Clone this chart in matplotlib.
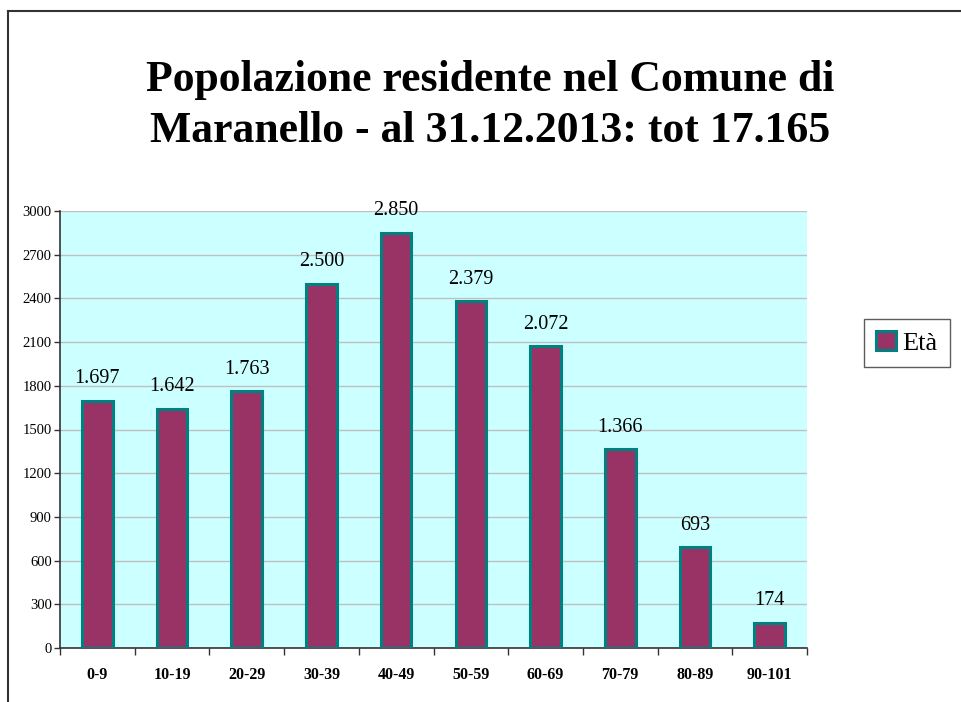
import numpy as np
import matplotlib.pyplot as plt
from matplotlib.lines import Line2D

fasce = ["0-9", "10-19", "20-29", "30-39", "40-49", "50-59", "60-69", "70-79", "80-89", "90-101"]
residenti = [1697, 1642, 1763, 2500, 2850, 2379, 2072, 1366, 693, 174]
etichette = ["1.697", "1.642", "1.763", "2.500", "2.850", "2.379", "2.072", "1.366", "693", "174"]
yticks = list(range(0, 3001, 300))

plt.rcParams['font.family'] = ['Liberation Serif', 'DejaVu Serif']

fig = plt.figure(figsize=(9.61, 7.02), dpi=100)
ax = fig.add_axes([60/961, 54/702, 747/961, 437/702])
ax.set_facecolor('#CCFFFF')

x = np.arange(len(fasce))
bars = ax.bar(x, residenti, width=0.41, color='#993366', edgecolor='#008080', linewidth=2.2,
              label='Età', zorder=3)
for xi, v, t in zip(x, residenti, etichette):
    ax.annotate(t, (xi, v), xytext=(0, 9), textcoords='offset points',
                ha='center', va='bottom', fontsize=14.5)

ax.set_xlim(-0.5, len(fasce) - 0.5)
ax.set_ylim(0, 3000)
ax.set_yticks(yticks)
ax.tick_params(axis='y', labelsize=10.5, length=4, width=1, color='#333333', pad=2)
ax.yaxis.grid(True, color='#C0C0C0', linewidth=1, zorder=0)
ax.set_axisbelow(True)

ax.set_xticks(x)
ax.set_xticklabels(fasce, fontweight='bold', fontsize=11.5)
ax.tick_params(axis='x', which='major', length=0, pad=14)
ax.set_xticks(np.arange(-0.5, len(fasce)), minor=True)
ax.tick_params(axis='x', which='minor', length=5, width=1, color='#333333')

for s in ['top', 'right']:
    ax.spines[s].set_visible(False)
for s in ['left', 'bottom']:
    ax.spines[s].set_color('#333333')
    ax.spines[s].set_linewidth(1.2)

fig.text(490/961, 0.915, "Popolazione residente nel Comune di\nMaranello - al 31.12.2013: tot 17.165",
         ha='center', va='top', fontsize=31.5, fontweight='bold', linespacing=1.38)

leg = fig.legend(handles=[bars], labels=['Età'], loc='center', bbox_to_anchor=(907/961, 1 - 343/702),
                 fontsize=19, frameon=True, fancybox=False, edgecolor='#333333',
                 handlelength=0.75, handleheight=0.75, handletextpad=0.25, borderpad=0.45)
leg.get_frame().set_linewidth(1)

fig.add_artist(Line2D([8/961, 1], [1 - 11/702, 1 - 11/702], color='#333333', linewidth=1.5))
fig.add_artist(Line2D([8/961, 8/961], [0, 1 - 11/702], color='#333333', linewidth=1.5))

fig.savefig('out.png', dpi=100)
